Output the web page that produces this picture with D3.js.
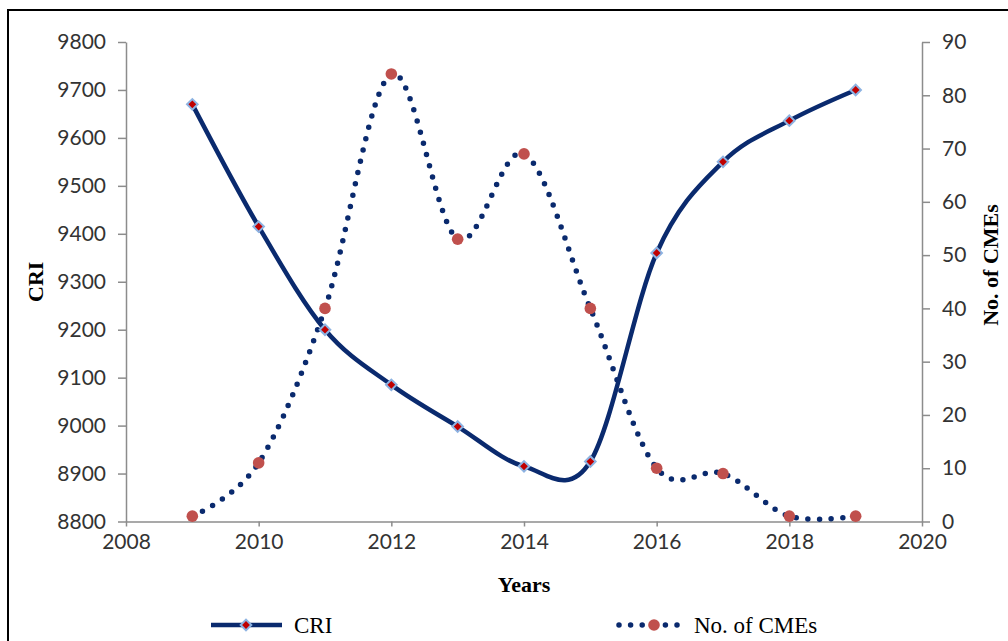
<!DOCTYPE html>
<html><head><meta charset="utf-8">
<script src="https://cdn.jsdelivr.net/npm/d3@7"></script>
<style>body{margin:0;background:#fff}svg{display:block}</style>
</head><body><svg id="c" width="1008" height="641"></svg>
<script>
const years = [2009,2010,2011,2012,2013,2014,2015,2016,2017,2018,2019];
const cri = [9670,9415,9200,9085,8998,8915,8925,9360,9550,9636,9700];
const cmes = [1,11,40,84,53,69,40,10,9,1,1];
const xTicks = [2008,2010,2012,2014,2016,2018,2020];
const yLeftTicks = [8800,8900,9000,9100,9200,9300,9400,9500,9600,9700,9800];
const yRightTicks = [0,10,20,30,40,50,60,70,80,90];

const svg = d3.select("#c");
const L=126, R=922, T=42, B=521.5;
const x = d3.scaleLinear().domain([2008,2020]).range([L,R]);
const yL = d3.scaleLinear().domain([8800,9800]).range([B,T]);
const yR = d3.scaleLinear().domain([0,90]).range([B,T]);
const navy="#0a2a6e", axisCol="#8c8c8c";
const tickFont="Lato, 'Open Sans', sans-serif";

svg.append("rect").attr("x",8).attr("y",10).attr("width",1100).attr("height",700)
  .attr("fill","#fff").attr("stroke","#000").attr("stroke-width",2);

function styleAxis(g){
  g.selectAll(".domain").attr("stroke",axisCol).attr("stroke-width",1.5);
  g.selectAll(".tick line").attr("stroke",axisCol).attr("stroke-width",1.5);
  g.selectAll(".tick text").attr("fill","#333").style("font-family",tickFont).style("font-size","21px");
}
const gx = svg.append("g").attr("transform",`translate(0,${B})`)
  .call(d3.axisBottom(x).tickValues(xTicks).tickFormat(d3.format("d")).tickSizeInner(5).tickSizeOuter(0).tickPadding(8));
styleAxis(gx);
const gl = svg.append("g").attr("transform",`translate(${L},0)`)
  .call(d3.axisLeft(yL).tickValues(yLeftTicks).tickFormat(d3.format("d")).tickSizeInner(8).tickSizeOuter(0).tickPadding(12));
styleAxis(gl);
const gr = svg.append("g").attr("transform",`translate(${R},0)`)
  .call(d3.axisRight(yR).tickValues(yRightTicks).tickFormat(d3.format("d")).tickSizeInner(8).tickSizeOuter(0).tickPadding(12));
styleAxis(gr);

const titleFont="'Liberation Serif','Times New Roman',serif";
svg.append("text").attr("x",524).attr("y",592).attr("text-anchor","middle")
  .style("font-family",titleFont).style("font-weight","bold").style("font-size","22px").text("Years");
svg.append("text").attr("transform",`translate(43,${(T+B)/2}) rotate(-90)`).attr("text-anchor","middle")
  .style("font-family",titleFont).style("font-weight","bold").style("font-size","22px").text("CRI");
svg.append("text").attr("transform",`translate(998,265) rotate(-90)`).attr("text-anchor","middle")
  .style("font-family",titleFont).style("font-weight","bold").style("font-size","22px").text("No. of CMEs");

const curve = d3.curveCatmullRom.alpha(0);
const lineCme = d3.line().x((d,i)=>x(years[i])).y(d=>yR(d)).curve(curve);
const lineCri = d3.line().x((d,i)=>x(years[i])).y(d=>yL(d)).curve(curve);

svg.append("path").attr("d",lineCme(cmes)).attr("fill","none").attr("stroke",navy)
  .attr("stroke-width",5.5).attr("stroke-linecap","round").attr("stroke-dasharray","0 11.6");
svg.append("path").attr("d",lineCri(cri)).attr("fill","none").attr("stroke",navy)
  .attr("stroke-width",4.5).attr("stroke-linejoin","round");

svg.append("g").selectAll("circle").data(cmes).join("circle")
  .attr("cx",(d,i)=>x(years[i])).attr("cy",d=>yR(d)).attr("r",5.8).attr("fill","#c0504d");

const diamond = d3.symbol(d3.symbolSquare,56);
svg.append("g").selectAll("path").data(cri).join("path")
  .attr("d",diamond).attr("transform",(d,i)=>`translate(${x(years[i])},${yL(d)}) rotate(45)`)
  .attr("fill","#c00000").attr("stroke","#8db3e2").attr("stroke-width",2);

// legend
const legY=625;
const lg = svg.append("g");
lg.append("line").attr("x1",211).attr("x2",282).attr("y1",legY).attr("y2",legY)
  .attr("stroke",navy).attr("stroke-width",4.5);
lg.append("path").attr("d",diamond).attr("transform",`translate(246,${legY}) rotate(45)`)
  .attr("fill","#c00000").attr("stroke","#8db3e2").attr("stroke-width",2);
lg.append("text").attr("x",294).attr("y",legY+8).style("font-family",titleFont).style("font-size","23px").text("CRI");
lg.append("line").attr("x1",619).attr("x2",684).attr("y1",legY).attr("y2",legY)
  .attr("stroke",navy).attr("stroke-width",5.5).attr("stroke-linecap","round").attr("stroke-dasharray","0 11.6");
lg.append("circle").attr("cx",654).attr("cy",legY).attr("r",5.8).attr("fill","#c0504d");
lg.append("text").attr("x",694).attr("y",legY+8).style("font-family",titleFont).style("font-size","23px").text("No. of CMEs");
</script></body></html>
